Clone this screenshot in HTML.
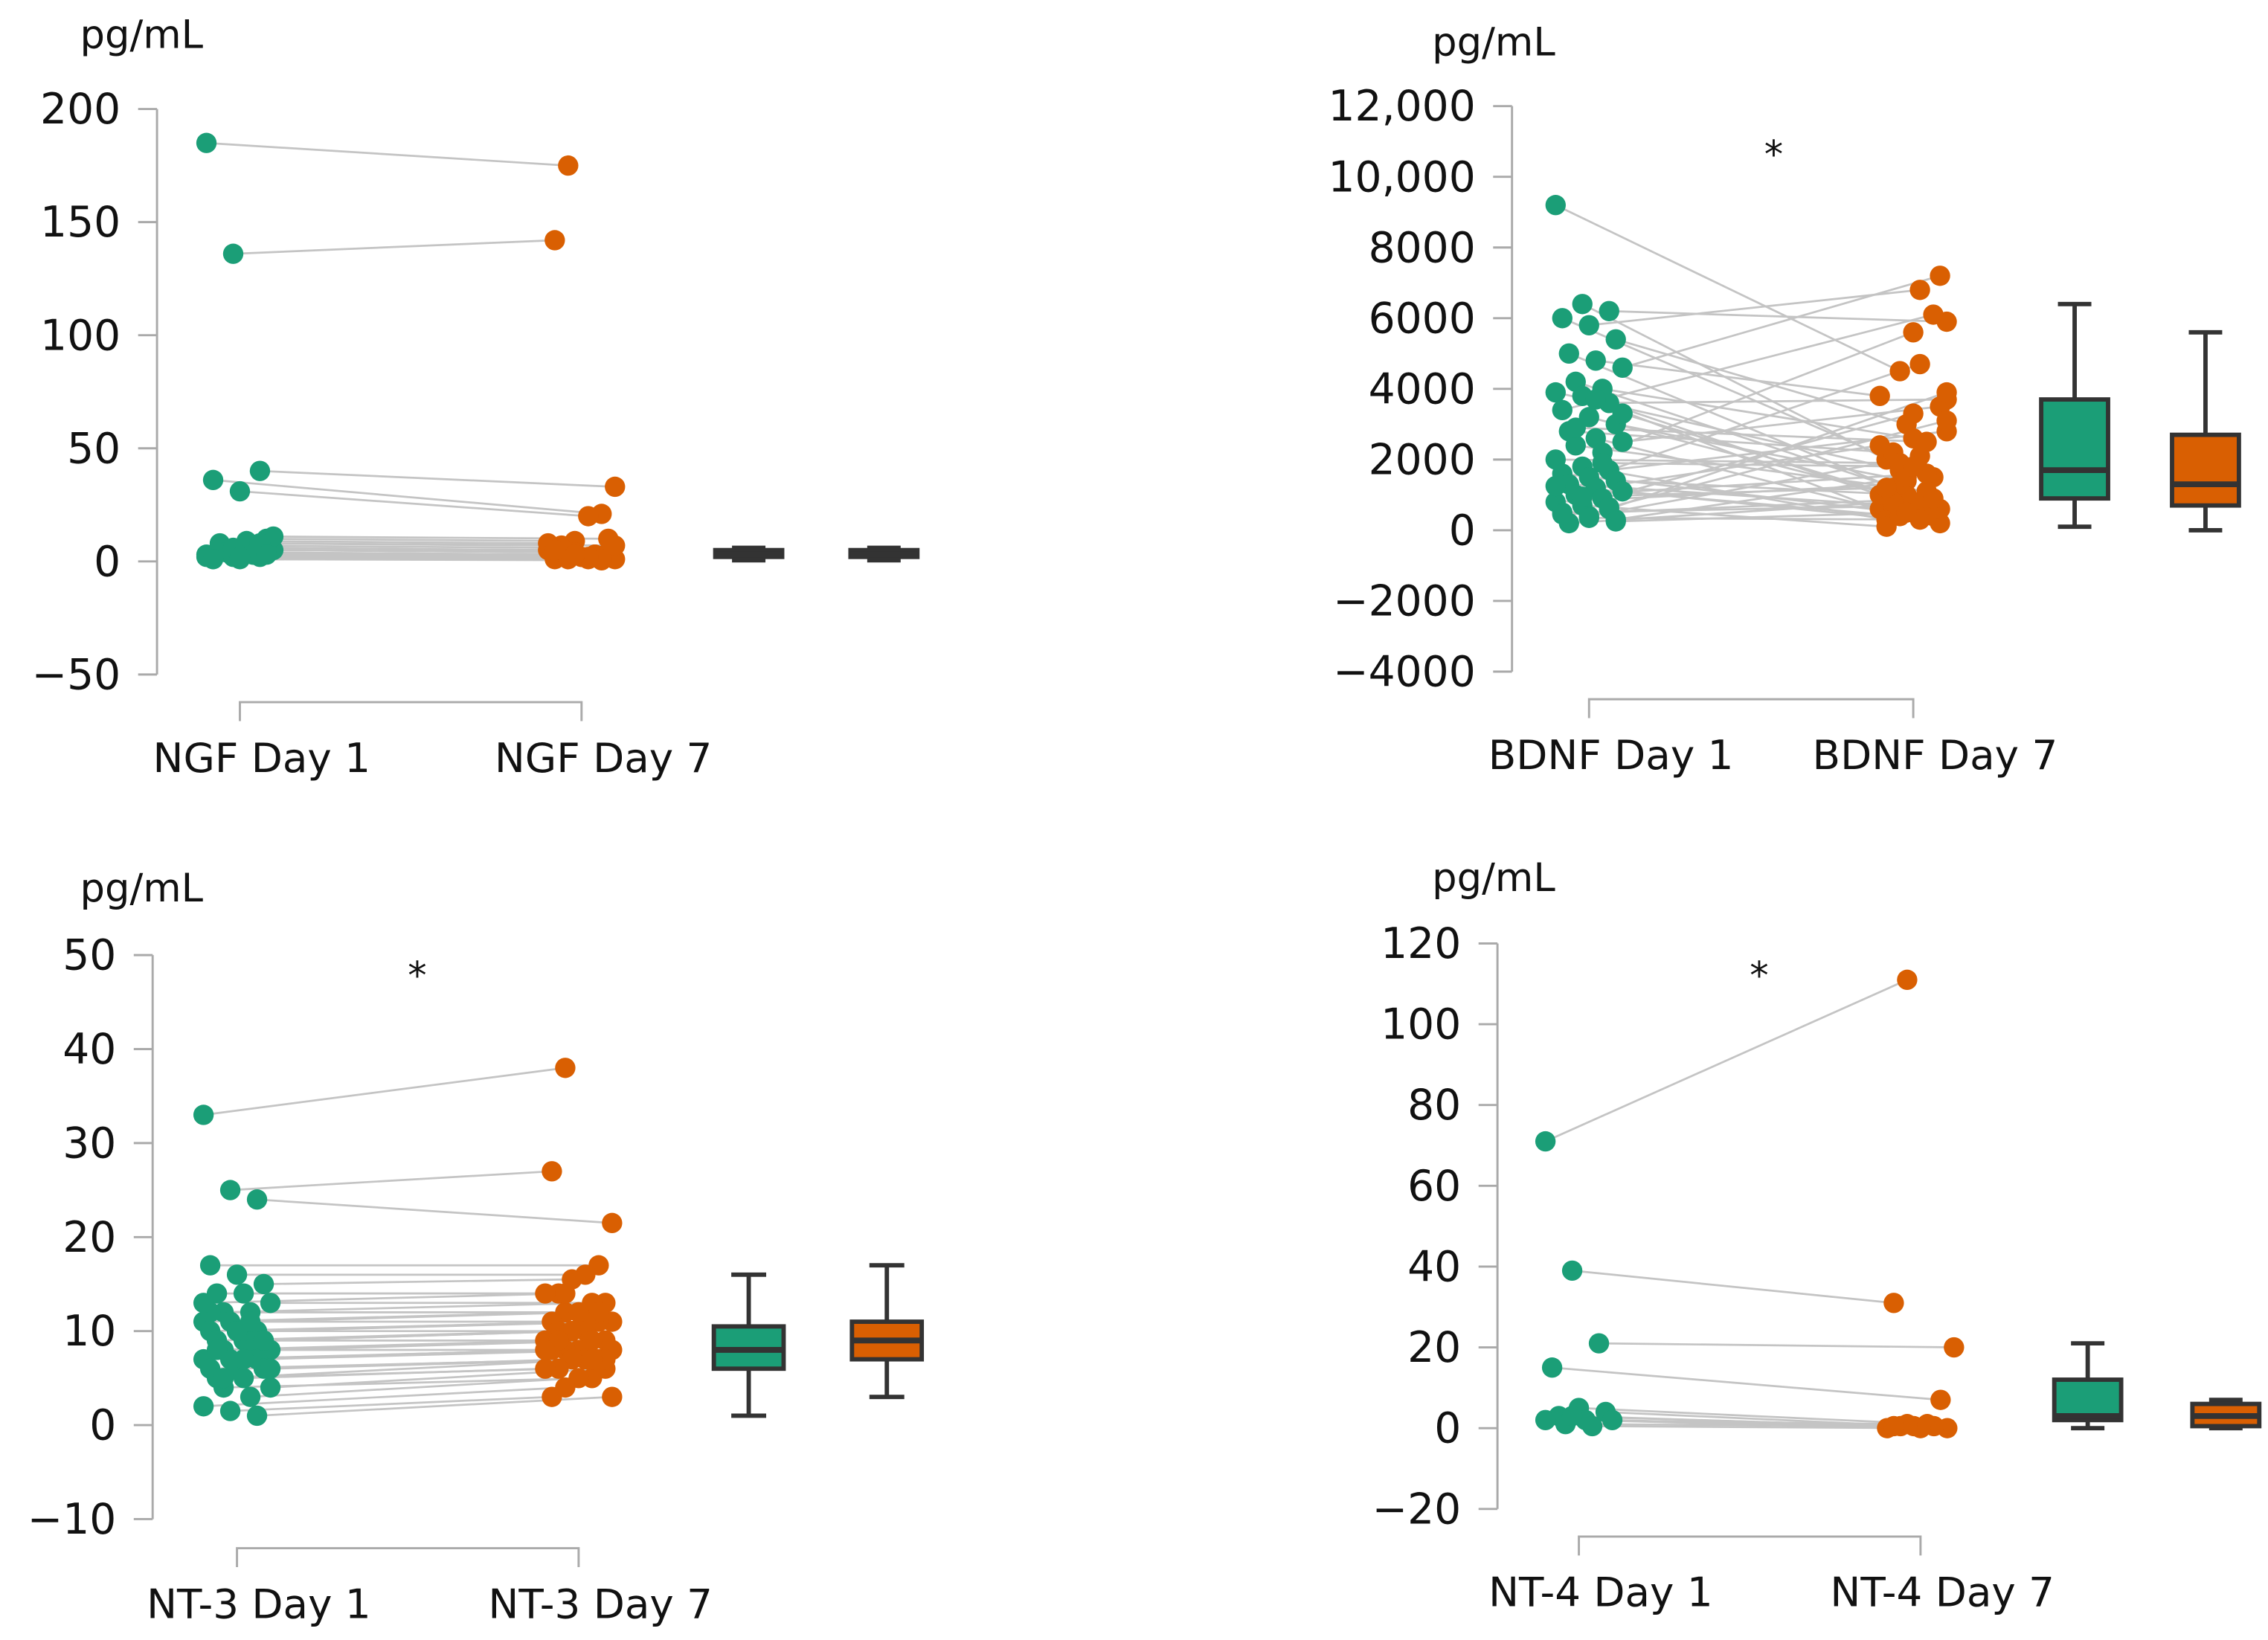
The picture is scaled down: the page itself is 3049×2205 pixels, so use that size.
<!DOCTYPE html>
<html><head><meta charset="utf-8"><style>
html,body{margin:0;padding:0;background:#fff}
svg text{font-family:"DejaVu Sans","Liberation Sans",sans-serif;fill:#111}
</style></head><body>
<svg id="fig" width="3049" height="2200" viewBox="0 0 1560 1125.6" preserveAspectRatio="none" xmlns="http://www.w3.org/2000/svg"></svg>
<script>
const ngfDay1=[185,136,40,36,31,10,8,6,5,4,3,3,2,2,1,1,5,7,9,11,4,3,2,6,8,1,2,3];
const ngfDay7=[175,142,33,21,20,9,7,5,4,3,2,2,1,1,0.5,1,4,6,8,10,3,2,1,5,7,1,2,3];
const ngfBox1=[0.5,2,3,5,6];
const ngfBox7=[0.5,2,3,5,6];
const ngfTicks=[200,150,100,50,0,-50];
const ngfTickLabels=["200","150","100","50","0","\u221250"];

const bdnfDay1=[9200,6400,6200,6000,5800,5400,5000,4800,4600,4200,4000,3900,3800,3600,3400,3200,3000,2800,2600,2500,2400,2200,2000,1800,1700,1600,1500,1400,1300,1200,1100,1000,900,800,700,600,500,400,300,200,3700,3300,2900,1900,1250,950,650,450,350,250];
const bdnfDay7=[4500,2000,5900,1500,6800,3000,1200,3800,7200,900,2600,1700,500,3700,6100,800,1400,2200,600,3500,1100,5600,1900,300,2800,400,4700,1000,700,2400,200,1600,3300,1300,100,3900,700,2100,1500,800,1000,600,2500,1800,400,1200,3100,900,300,500];
const bdnfBox1=[100,900,1700,3700,6400];
const bdnfBox7=[0,700,1300,2700,5600];
const bdnfTicks=[12000,10000,8000,6000,4000,2000,0,-2000,-4000];
const bdnfTickLabels=["12,000","10,000","8000","6000","4000","2000","0","\u22122000","\u22124000"];

const nt3Day1=[33,25,24,17,16,15,14,14,13,12,12,11,11,10,10,10,9,9,9,8,8,8,7,7,7,6,6,6,5,5,4,4,3,2,1.5,1,12,10,9,8,7,6,5,11,13];
const nt3Day7=[38,27,21.5,17,16,15.5,14,14,13,13,12,12,11,11,11,10,10,10,9,9,9,8,8,8,8,7,7,7,6,6,6,5,5,4,3,3,12,11,10,9,8,7,7,12,14];
const nt3Box1=[1,6,8,10.5,16];
const nt3Box7=[3,7,9,11,17];
const nt3Ticks=[50,40,30,20,10,0,-10];
const nt3TickLabels=["50","40","30","20","10","0","\u221210"];

const nt4Day1=[71,39,21,15,5,4,3,2,2,1,0.5,2,3];
const nt4Day7=[111,31,20,7,1,0.5,0.5,0,0,0.5,0,1,0.5];
const nt4Box1=[0,2,3,12,21];
const nt4Box7=[0,0.5,3,6,7];
const nt4Ticks=[120,100,80,60,40,20,0,-20];
const nt4TickLabels=["120","100","80","60","40","20","0","\u221220"];

const NS="http://www.w3.org/2000/svg";
const svg=document.getElementById('fig');
function mk(tag,attrs,parent){const e=document.createElementNS(NS,tag);for(const k in attrs)e.setAttribute(k,attrs[k]);(parent||svg).appendChild(e);return e;}

function panel(cfg){
  const g=mk('g',{});
  
  
  const ymax=cfg.ticks[0],ymin=cfg.ticks[cfg.ticks.length-1];
  const y=v=>cfg.yTop+(ymax-v)/(ymax-ymin)*(cfg.yBot-cfg.yTop);
  const u=mk('text',{x:cfg.unitX,y:cfg.unitY,'font-size':27},g);u.textContent='pg/mL';
  
  
  const ax=mk('line',{x1:cfg.axX,x2:cfg.axX,y1:cfg.yTop,y2:cfg.yBot,stroke:'#aaa','stroke-width':1.5},g);
  
  
  cfg.ticks.forEach((t,i)=>{
    mk('line',{x1:cfg.axX-13,x2:cfg.axX,y1:y(t),y2:y(t),stroke:'#aaa','stroke-width':1.5},g);
    const tl=mk('text',{x:cfg.axX-25,y:y(t)+10,'font-size':29,'text-anchor':'end'},g);
    tl.textContent=cfg.tickLabels[i];
    
    
  });
  const bx=mk('path',{d:`M${cfg.x1},${cfg.brY+13}V${cfg.brY}H${cfg.x7}V${cfg.brY+13}`,fill:'none',stroke:'#aaa','stroke-width':1.5},g);
  
  
  [[cfg.x1,cfg.lab1],[cfg.x7,cfg.lab7]].forEach(([x,l])=>{
    const t=mk('text',{x:x+15,y:cfg.brY+48,'font-size':28,'text-anchor':'middle'},g);t.textContent=l;
    
    
  });
  if(cfg.star){const s=mk('text',{x:cfg.star[0],y:cfg.star[1],'font-size':26,'text-anchor':'middle'},g);s.textContent='*';
    
    }
  const jit=i=>(((i*37)%11)-5)*4.6;
  const jit2=i=>(((i*53+3)%11)-5)*4.6;
  cfg.d1.forEach((v,i)=>{
    const ln=mk('line',{x1:cfg.x1+jit(i),y1:y(v),x2:cfg.x7+jit2(i),y2:y(cfg.d7[i]),stroke:'#c4c4c4','stroke-width':1.4},g);
    
    
  });
  cfg.d1.forEach((v,i)=>{
    const c=mk('circle',{cx:cfg.x1+jit(i),cy:y(v),r:7,fill:'#1b9e77'},g);
    
    
  });
  cfg.d7.forEach((v,i)=>{
    const c=mk('circle',{cx:cfg.x7+jit2(i),cy:y(v),r:7,fill:'#d95f02'},g);
    
    
  });
  [[cfg.b1x,cfg.box1,'#1b9e77','day1-box'],[cfg.b7x,cfg.box7,'#d95f02','day7-box']].forEach(([cx,b,col,nm])=>{
    const bg=mk('g',{},g);
    
    
    const w=cfg.bw;
    mk('line',{x1:cx,x2:cx,y1:y(b[0]),y2:y(b[4]),stroke:'#333','stroke-width':3},bg);
    mk('line',{x1:cx-w/4,x2:cx+w/4,y1:y(b[0]),y2:y(b[0]),stroke:'#333','stroke-width':3},bg);
    mk('line',{x1:cx-w/4,x2:cx+w/4,y1:y(b[4]),y2:y(b[4]),stroke:'#333','stroke-width':3},bg);
    mk('rect',{x:cx-w/2,y:y(b[3]),width:w,height:Math.max(y(b[1])-y(b[3]),1),fill:col,stroke:'#333','stroke-width':3},bg);
    mk('line',{x1:cx-w/2,x2:cx+w/2,y1:y(b[2]),y2:y(b[2]),stroke:'#333','stroke-width':4},bg);
  });
}
panel({name:'ngf',ticks:ngfTicks,tickLabels:ngfTickLabels,yTop:75,yBot:464,axX:108,unitX:55,unitY:33,x1:165,x7:400,brY:483,lab1:'NGF Day 1',lab7:'NGF Day 7',d1:ngfDay1,d7:ngfDay7,box1:ngfBox1,box7:ngfBox7,b1x:515,b7x:608,bw:46});
panel({name:'bdnf',ticks:bdnfTicks,tickLabels:bdnfTickLabels,yTop:73,yBot:462,axX:1040,unitX:985,unitY:38,x1:1093,x7:1316,brY:481,lab1:'BDNF Day 1',lab7:'BDNF Day 7',d1:bdnfDay1,d7:bdnfDay7,box1:bdnfBox1,box7:bdnfBox7,b1x:1427,b7x:1517,bw:46,star:[1220,115]});
panel({name:'nt3',ticks:nt3Ticks,tickLabels:nt3TickLabels,yTop:657,yBot:1045,axX:105,unitX:55,unitY:620,x1:163,x7:398,brY:1065,lab1:'NT-3 Day 1',lab7:'NT-3 Day 7',d1:nt3Day1,d7:nt3Day7,box1:nt3Box1,box7:nt3Box7,b1x:515,b7x:610,bw:48,star:[287,680]});
panel({name:'nt4',ticks:nt4Ticks,tickLabels:nt4TickLabels,yTop:649,yBot:1038,axX:1030,unitX:985,unitY:613,x1:1086,x7:1321,brY:1057,lab1:'NT-4 Day 1',lab7:'NT-4 Day 7',d1:nt4Day1,d7:nt4Day7,box1:nt4Box1,box7:nt4Box7,b1x:1436,b7x:1531,bw:46,star:[1210,680]});
</script>
</body></html>
